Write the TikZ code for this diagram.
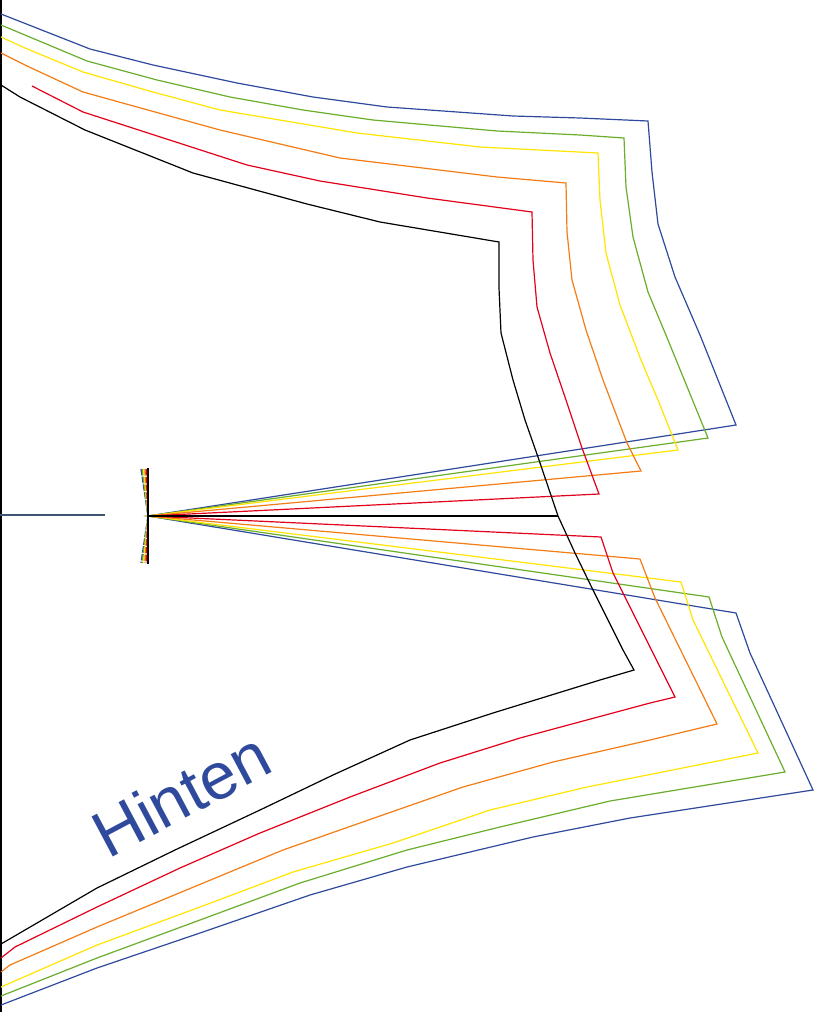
\documentclass[tikz,border=0pt]{standalone}
\usepackage{fontspec}
\setmainfont{Liberation Sans}
\definecolor{pblue}{HTML}{2F4A9C}
\definecolor{pgreen}{HTML}{6AAE2C}
\definecolor{pyellow}{HTML}{FFE500}
\definecolor{porange}{HTML}{F47C14}
\definecolor{pred}{HTML}{E3001B}
\definecolor{pslate}{HTML}{3E5570}
\tikzset{
  pat/.style={line width=1.2bp, line join=miter},
  tick/.style={line width=1.3bp, dash pattern=on 6.5bp off 1.3bp},
}
\begin{document}
\begin{tikzpicture}[x=1bp,y=-1bp]
\useasboundingbox[fill=white] (0,0) rectangle (817,1012);
\coordinate (c) at (148,516);
% left border
\draw[line width=1.6bp] (1,0) -- (1,1012);
% short left line
\draw[pslate, line width=1.2bp] (0,515) -- (105,515);
% size: blue
\draw[pat, pblue] (1,14) -- (90,49) -- (153,65) -- (237,83) -- (313,97) -- (387,107) -- (513,116) -- (580,118) -- (648,121) -- (652,172) -- (658,224) -- (675,277) -- (700,335) -- (736,425) -- (c)
  -- (736,613) -- (750,653) -- (813,790) -- (630,818) -- (533,837) -- (407,867) -- (310,895) -- (200,933) -- (97,968) -- (1,1005);
% green
\draw[pat, pgreen] (1,25) -- (87,61) -- (157,80) -- (230,97) -- (303,110) -- (373,120) -- (497,131) -- (580,135) -- (624,138) -- (626,187) -- (633,237) -- (648,292) -- (668,340) -- (708,438) -- (c)
  -- (709,597) -- (722,637) -- (785,772) -- (610,801) -- (500,827) -- (407,850) -- (300,883) -- (200,920) -- (97,958) -- (1,996);
% yellow
\draw[pat, pyellow] (1,37) -- (25,48) -- (83,72) -- (153,92) -- (220,110) -- (357,133) -- (480,147) -- (598,153) -- (600,200) -- (606,253) -- (620,305) -- (641,360) -- (658,400) -- (678,450) -- (c)
  -- (681,582) -- (693,620) -- (758,753) -- (587,787) -- (490,810) -- (393,843) -- (293,872) -- (200,907) -- (97,945) -- (1,987);
% orange
\draw[pat, porange] (1,53) -- (27,66) -- (83,92) -- (220,130) -- (340,158) -- (497,177) -- (566,183) -- (567,232) -- (572,280) -- (586,330) -- (603,380) -- (627,443) -- (641,471) -- (c)
  -- (640,559) -- (655,598) -- (717,724) -- (650,740) -- (553,762) -- (463,787) -- (377,817) -- (283,850) -- (97,927) -- (10,965) -- (1,972);
% red
\draw[pat, pred] (32,86) -- (83,112) -- (247,165) -- (320,181) -- (427,198) -- (532,212) -- (533,260) -- (537,307) -- (550,353) -- (566,400) -- (582,448) -- (599,494) -- (c)
  -- (601,537) -- (613,573) -- (675,697) -- (650,703) -- (520,738) -- (440,763) -- (350,797) -- (260,833) -- (180,868) -- (97,907) -- (15,947) -- (1,958);
% black
\draw[pat, black] (1,85) -- (20,97) -- (85,130) -- (193,173) -- (307,204) -- (380,222) -- (499,242) -- (499,288) -- (501,333) -- (513,380) -- (525,420) -- (538,457) -- (558,516) -- (575,553) -- (593,590) -- (623,650) -- (634,670)
  -- (600,680) -- (493,713) -- (410,740) -- (333,775) -- (260,810) -- (175,850) -- (97,888) -- (25,930) -- (1,944);
\draw[pat, black] (c) -- (558,516);
% tick fan at centre
\draw[tick, pblue] (141,469) -- (c) -- (141,563);
\draw[tick, pgreen] (142.3,469) -- (c) -- (142.3,563);
\draw[tick, pyellow] (143.6,469) -- (c) -- (143.6,563);
\draw[tick, porange] (144.9,469) -- (c) -- (144.9,563);
\draw[tick, pred] (146.2,469) -- (c) -- (146.2,563);
\draw[line width=1.3bp, black] (148,468) -- (148,564);
% label
\node[pblue, font=\fontsize{66}{66}\selectfont, rotate=28, anchor=base west, inner sep=0pt] (lab) at (108,860) {Hinten};
\end{tikzpicture}
\end{document}
